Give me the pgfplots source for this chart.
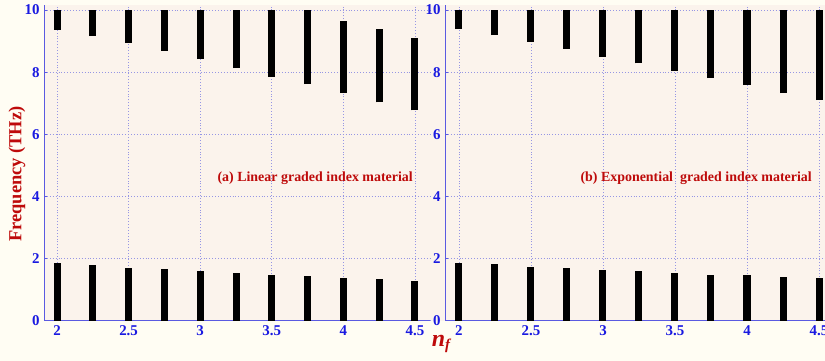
\documentclass[border=0pt]{standalone}
\usepackage{fontspec}
\setmainfont{Liberation Serif}
\usepackage{pgfplots}
\pgfplotsset{compat=1.18}

\definecolor{outerbg}{RGB}{255,253,243}
\definecolor{plotbg}{RGB}{251,243,236}
\definecolor{gridcol}{RGB}{150,150,228}
\definecolor{axiscol}{RGB}{90,90,225}
\definecolor{tickcol}{RGB}{25,25,225}
\definecolor{labelred}{RGB}{190,10,10}

\pgfplotsset{
  bandstyle/.style={
    scale only axis,
    height=315.7bp,
    ymin=0, ymax=10.16,
    xtick={2,2.5,3,3.5,4,4.5},
    xticklabels={2,2.5,3,3.5,4,4.5},
    ytick={0,2,4,6,8,10},
    axis lines*=left,
    axis line style={axiscol, line width=0.7bp},
    tick style={axiscol, line width=0.6bp},
    tick align=inside,
    major tick length=3bp,
    xmajorgrids, ymajorgrids,
    grid style={gridcol, line width=0.7bp, dash pattern=on 0.9bp off 2bp},
    axis background/.style={fill=plotbg},
    /pgf/number format/assume math mode=true,
    ticklabel style={font=\fontsize{15}{15}\selectfont\bfseries, text=tickcol},
    xticklabel style={yshift=-1bp},
    yticklabel style={xshift=-1bp},
    clip=false,
  },
  gapbar/.style={black, line width=7bp, line cap=butt, unbounded coords=jump, mark=none},
  lowbar/.style={ycomb, black, line width=7bp, line cap=butt, mark=none},
}

\begin{document}
\begin{tikzpicture}
\path[use as bounding box, fill=outerbg] (0,0) rectangle (825bp,361bp);
\clip (0,0) rectangle (825bp,361bp);
\fill[plotbg] (428bp,40.3bp) rectangle (446bp,356bp);

% (a) linear graded index
\begin{axis}[bandstyle, at={(44bp,40.3bp)}, anchor=south west,
  width=386bp, xmin=1.909, xmax=4.605]
  \addplot[gapbar] coordinates {
    (2,9.36) (2,10) (2,nan)
    (2.25,9.16) (2.25,10) (2.25,nan)
    (2.5,8.93) (2.5,10) (2.5,nan)
    (2.75,8.68) (2.75,10) (2.75,nan)
    (3,8.42) (3,10) (3,nan)
    (3.25,8.13) (3.25,10) (3.25,nan)
    (3.5,7.85) (3.5,10) (3.5,nan)
    (3.75,7.61) (3.75,10) (3.75,nan)
    (4,7.33) (4,9.66) (4,nan)
    (4.25,7.03) (4.25,9.38) (4.25,nan)
    (4.5,6.77) (4.5,9.10)
  };
  \addplot[lowbar] coordinates {
    (2,1.87) (2.25,1.78) (2.5,1.71) (2.75,1.66) (3,1.61) (3.25,1.54)
    (3.5,1.48) (3.75,1.43) (4,1.38) (4.25,1.33) (4.5,1.28)
  };
\end{axis}

% (b) exponential graded index
\begin{axis}[bandstyle, at={(445bp,40.3bp)}, anchor=south west,
  width=388.4bp, xmin=1.903, xmax=4.6]
  \addplot[gapbar] coordinates {
    (2,9.38) (2,10) (2,nan)
    (2.25,9.19) (2.25,10) (2.25,nan)
    (2.5,8.98) (2.5,10) (2.5,nan)
    (2.75,8.75) (2.75,10) (2.75,nan)
    (3,8.50) (3,10) (3,nan)
    (3.25,8.28) (3.25,10) (3.25,nan)
    (3.5,8.03) (3.5,10) (3.5,nan)
    (3.75,7.81) (3.75,10) (3.75,nan)
    (4,7.58) (4,10) (4,nan)
    (4.25,7.32) (4.25,10) (4.25,nan)
    (4.5,7.10) (4.5,10)
  };
  \addplot[lowbar] coordinates {
    (2,1.87) (2.25,1.82) (2.5,1.74) (2.75,1.69) (3,1.64) (3.25,1.59)
    (3.5,1.54) (3.75,1.48) (4,1.46) (4.25,1.41) (4.5,1.36)
  };
\end{axis}

% panel captions and axis titles
\node[anchor=east, text=labelred, font=\fontsize{14}{14}\selectfont\bfseries, inner sep=0pt]
  at (413bp,183bp) {(a) Linear graded index material};
\node[anchor=east, text=labelred, font=\fontsize{14}{14}\selectfont\bfseries, inner sep=0pt]
  at (812bp,183bp) {(b) Exponential\ \ graded index material};
\node[rotate=90, text=labelred, font=\fontsize{18.5}{18.5}\selectfont\bfseries, inner sep=0pt]
  at (17bp,187bp) {Frequency (THz)};
\node[text=labelred, font=\fontsize{24}{24}\selectfont\bfseries\itshape, inner sep=0pt]
  at (441bp,17bp) {n\raisebox{-0.35ex}{\fontsize{15}{15}\selectfont f}};
\end{tikzpicture}
\end{document}
